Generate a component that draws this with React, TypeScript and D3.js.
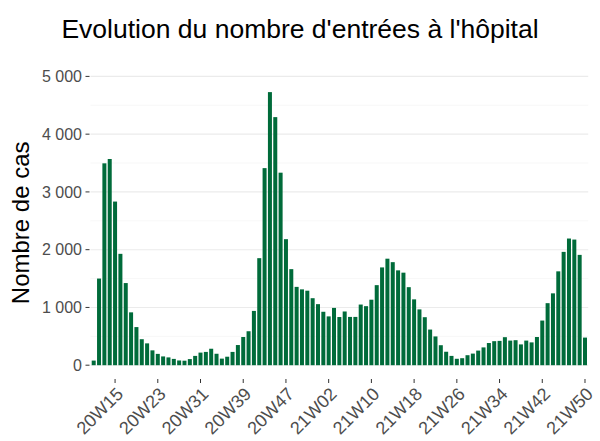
import React from "react";
import * as d3 from "d3";

const weeks = [
  "20W11","20W12","20W13","20W14","20W15","20W16","20W17","20W18","20W19","20W20",
  "20W21","20W22","20W23","20W24","20W25","20W26","20W27","20W28","20W29","20W30",
  "20W31","20W32","20W33","20W34","20W35","20W36","20W37","20W38","20W39","20W40",
  "20W41","20W42","20W43","20W44","20W45","20W46","20W47","20W48","20W49","20W50",
  "20W51","20W52","20W53","21W01","21W02","21W03","21W04","21W05","21W06","21W07",
  "21W08","21W09","21W10","21W11","21W12","21W13","21W14","21W15","21W16","21W17",
  "21W18","21W19","21W20","21W21","21W22","21W23","21W24","21W25","21W26","21W27",
  "21W28","21W29","21W30","21W31","21W32","21W33","21W34","21W35","21W36","21W37",
  "21W38","21W39","21W40","21W41","21W42","21W43","21W44","21W45","21W46","21W47",
  "21W48","21W49","21W50",
];

const admissions = [
  80, 1500, 3495, 3570, 2833, 1928, 1422, 915, 660, 450,
  378, 257, 196, 152, 135, 109, 82, 78, 106, 161,
  218, 230, 285, 198, 114, 147, 230, 349, 488, 588,
  940, 1853, 3412, 4728, 4295, 3333, 2182, 1663, 1356, 1313,
  1290, 1160, 1057, 925, 845, 992, 834, 930, 836, 836,
  1050, 1022, 1134, 1386, 1693, 1844, 1784, 1642, 1602, 1351,
  1140, 966, 831, 617, 498, 346, 233, 161, 111, 121,
  173, 201, 253, 308, 384, 416, 421, 485, 426, 433,
  360, 426, 395, 488, 773, 1074, 1244, 1625, 1962, 2193,
  2175, 1910, 478,
];

const xTickLabels = ["20W15","20W23","20W31","20W39","20W47","21W02","21W10","21W18","21W26","21W34","21W42","21W50"];
const yMajorTicks = [0, 1000, 2000, 3000, 4000, 5000];
const yMinorTicks = [500, 1500, 2500, 3500, 4500];

const W = 600;
const H = 441;
const FONT = "'Liberation Sans', Arial, sans-serif";

export default function App() {
  const x = d3.scalePoint<string>().domain(weeks).range([90.5, 588.2]).padding(0.6);
  const y = d3.scaleLinear().domain([0, 5000]).range([365.2, 76.4]);
  const step = x.step();
  const bw = step * 0.75;
  const fmt = (v: number) => d3.format(",")(v).replace(/,/g, " ");
  const [x0, x1] = [90.5, 588.2];

  return (
    <svg width={W} height={H} style={{ position: "absolute", left: 0, top: 0, background: "#fff" }}>
      <rect width={W} height={H} fill="#fff" />
      {yMinorTicks.map((t) => (
        <line key={"mn" + t} x1={x0} x2={x1} y1={y(t)} y2={y(t)} stroke="#f2f2f2" strokeWidth={0.6} />
      ))}
      {yMajorTicks.map((t) => (
        <line key={"mj" + t} x1={x0} x2={x1} y1={y(t)} y2={y(t)} stroke="#ebebeb" strokeWidth={1.1} />
      ))}
      {weeks.map((w, i) => (
        <rect
          key={w}
          x={(x(w) as number) - bw / 2}
          y={y(admissions[i])}
          width={bw}
          height={y(0) - y(admissions[i])}
          fill="#006b3a"
        />
      ))}
      {yMajorTicks.map((t) => (
        <g key={"yt" + t}>
          <line x1={85.5} x2={89.5} y1={y(t)} y2={y(t)} stroke="#333" strokeWidth={1} />
          <text x={82} y={y(t)} dy="0.35em" textAnchor="end" fontFamily={FONT} fontSize={16} fill="#4d4d4d">
            {fmt(t)}
          </text>
        </g>
      ))}
      {xTickLabels.map((l) => {
        const cx = x(l) as number;
        return (
          <g key={"xt" + l}>
            <line x1={cx} x2={cx} y1={379} y2={383} stroke="#333" strokeWidth={1} />
            <text
              transform={`translate(${cx},${386}) rotate(-45)`}
              textAnchor="end"
              dy="0.72em"
              fontFamily={FONT}
              fontSize={18}
              fill="#4d4d4d"
            >
              {l}
            </text>
          </g>
        );
      })}
      <text
        transform={`translate(29,${(y(0) + y(5000)) / 2 + 2}) rotate(-90)`}
        textAnchor="middle"
        fontFamily={FONT}
        fontSize={24}
        fill="#000"
      >
        Nombre de cas
      </text>
      <text x={300} y={38} textAnchor="middle" fontFamily={FONT} fontSize={26.5} fill="#000">
        Evolution du nombre d'entrées à l'hôpital
      </text>
    </svg>
  );
}
